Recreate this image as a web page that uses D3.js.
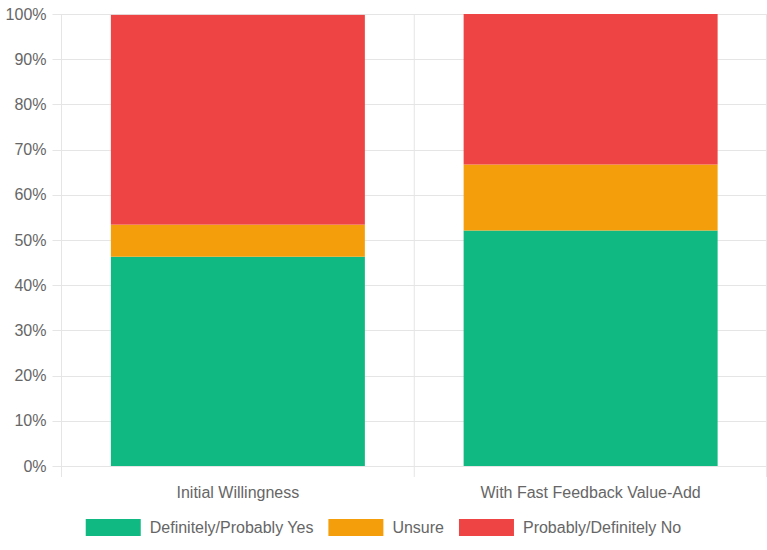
<!DOCTYPE html>
<html>
<head>
<meta charset="utf-8">
<script src="https://cdn.jsdelivr.net/npm/d3@7"></script>
<style>
  body { margin: 0; background: #fff; }
  svg { display: block; font-family: "Liberation Sans", Arial, Helvetica, sans-serif; }
</style>
</head>
<body>
<div id="chart"></div>
<script>
// Data
const categories = ["Initial Willingness", "With Fast Feedback Value-Add"];
const seriesNames = ["Definitely/Probably Yes", "Unsure", "Probably/Definitely No"];
const yesValues = [46.3, 52.1];
const unsureValues = [7.1, 14.6];
const noValues = [46.4, 33.3];
const yTicks = [0, 10, 20, 30, 40, 50, 60, 70, 80, 90, 100];
const colors = ["#10b981", "#f59e0b", "#ef4444"];

const W = 767, H = 550;
const plotLeft = 61.5, plotRight = 767, plotTop = 14, plotBottom = 466;
const fontSize = "16px";

const svg = d3.select("#chart").append("svg")
    .attr("width", W)
    .attr("height", H);

// Build stacked rows
const rows = categories.map((c, i) => ({
    cat: c,
    yes: yesValues[i],
    unsure: unsureValues[i],
    no: noValues[i]
}));
const stack = d3.stack().keys(["yes", "unsure", "no"])(rows);

const x = d3.scaleBand()
    .domain(categories)
    .range([plotLeft, plotRight])
    .paddingInner(0)
    .paddingOuter(0);

const y = d3.scaleLinear()
    .domain([0, 100])
    .range([plotBottom, plotTop]);

const barW = x.bandwidth() * 0.72;

// Horizontal gridlines
svg.append("g")
    .selectAll("line")
    .data(yTicks)
    .enter().append("line")
    .attr("x1", plotLeft - 9)
    .attr("x2", plotRight)
    .attr("y1", d => Math.round(y(d)) + 0.5)
    .attr("y2", d => Math.round(y(d)) + 0.5)
    .attr("stroke", "#e5e5e5")
    .attr("stroke-width", 1);

// Vertical gridlines (category edges)
const vLines = [plotLeft, x(categories[1]), plotRight - 0.5];
svg.append("g")
    .selectAll("line")
    .data(vLines)
    .enter().append("line")
    .attr("x1", d => d)
    .attr("x2", d => d)
    .attr("y1", plotTop)
    .attr("y2", plotBottom + 11)
    .attr("stroke", "#e5e5e5")
    .attr("stroke-width", 1);

// Y tick labels
svg.append("g")
    .selectAll("text")
    .data(yTicks)
    .enter().append("text")
    .attr("x", plotLeft - 15)
    .attr("y", d => y(d))
    .attr("dy", "0.35em")
    .attr("text-anchor", "end")
    .attr("fill", "#666")
    .style("font-size", fontSize)
    .text(d => d + "%");

// Stacked bars
svg.append("g")
    .selectAll("g")
    .data(stack)
    .enter().append("g")
    .attr("fill", (d, i) => colors[i])
    .selectAll("rect")
    .data(d => d)
    .enter().append("rect")
    .attr("x", d => x(d.data.cat) + (x.bandwidth() - barW) / 2)
    .attr("width", barW)
    .attr("y", d => y(d[1]))
    .attr("height", d => y(d[0]) - y(d[1]));

// X category labels
svg.append("g")
    .selectAll("text")
    .data(categories)
    .enter().append("text")
    .attr("x", d => x(d) + x.bandwidth() / 2)
    .attr("y", plotBottom + 26)
    .attr("dy", "0.35em")
    .attr("text-anchor", "middle")
    .attr("fill", "#666")
    .style("font-size", fontSize)
    .text(d => d);

// Legend
const legend = svg.append("g");
const boxW = 55, boxH = 17, gapAfterBox = 9, gapItems = 15;
const items = legend.selectAll("g")
    .data(seriesNames)
    .enter().append("g");
items.append("rect")
    .attr("width", boxW)
    .attr("height", boxH)
    .attr("fill", (d, i) => colors[i]);
items.append("text")
    .attr("x", boxW + gapAfterBox)
    .attr("y", boxH / 2)
    .attr("dy", "0.35em")
    .attr("fill", "#666")
    .style("font-size", fontSize)
    .text(d => d);

// lay out legend items centred
let widths = [];
items.each(function() {
    widths.push(boxW + gapAfterBox + d3.select(this).select("text").node().getComputedTextLength());
});
const total = d3.sum(widths) + gapItems * (widths.length - 1);
let cx = (W - total) / 2;
items.attr("transform", (d, i) => {
    const t = `translate(${cx},519)`;
    cx += widths[i] + gapItems;
    return t;
});
</script>
</body>
</html>
